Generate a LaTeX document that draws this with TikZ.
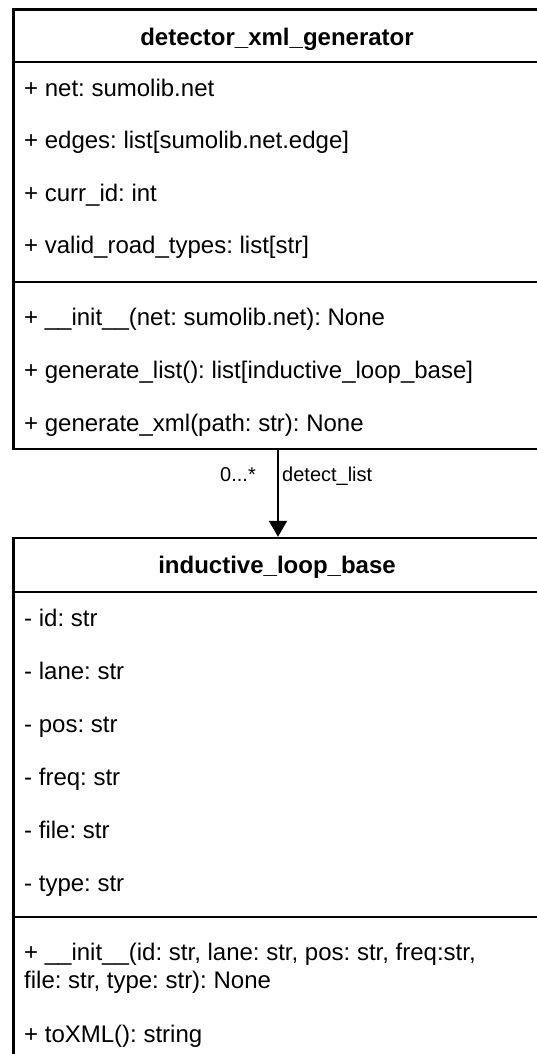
\documentclass[tikz,border=0pt]{standalone}
\usepackage{fontspec}
\setmainfont{Liberation Sans}
\usetikzlibrary{arrows.meta}
\frenchspacing
\begin{document}
\begin{tikzpicture}[x=1pt,y=-1pt,
  boxline/.style={line width=2.4pt, draw=black},
  umlbox/.style={boxline, fill=white, inner sep=0pt, minimum width=531.5pt},
  member/.style={anchor=base west, inner sep=0pt, font=\fontsize{24}{29}\selectfont\frenchspacing},
  titletext/.style={anchor=base, inner sep=0pt, font=\fontsize{24}{29}\selectfont\bfseries},
  edgelabel/.style={inner sep=0pt, font=\fontsize{20}{24}\selectfont},
  assoc/.style={line width=2pt, -{Triangle[length=16pt,width=18pt]}}]
\useasboundingbox (0,0) rectangle (537,1054);
\fill[white] (0,0) rectangle (537,1054);
\clip (0,0) rectangle (537,1054);

% ---- detector_xml_generator ----
\node[umlbox, minimum height=439.5pt] (gen) at (279.25,229.25) {};
\draw[boxline] (gen.west |- 0,62) coordinate (g1) -- (gen.east |- 0,62) coordinate (g2);
\draw[boxline] (gen.west |- 0,282) coordinate (g3) -- (gen.east |- 0,282) coordinate (g4);
\node[titletext] (gentitle) at (277,46) {detector\_xml\_generator};
\node[member] (ga1) at (24,97) {+ net: sumolib.net};
\node[member] (ga2) at (24,149) {+ edges: list[sumolib.net.edge]};
\node[member] (ga3) at (24,201) {+ curr\_id: int};
\node[member] (ga4) at (24,253) {+ valid\_road\_types: list[str]};
\node[member] (gm1) at (24,325) {+ \_\_init\_\_(net: sumolib.net): None};
\node[member] (gm2) at (24,378) {+ generate\_list(): list[inductive\_loop\_base]};
\node[member] (gm3) at (24,431) {+ generate\_xml(path: str): None};

% ---- inductive_loop_base ----
\node[umlbox, minimum height=560pt] (ind) at (279.25,818) {};
\draw[boxline] (ind.west |- 0,592) coordinate (i1) -- (ind.east |- 0,592) coordinate (i2);
\draw[boxline] (ind.west |- 0,917) coordinate (i3) -- (ind.east |- 0,917) coordinate (i4);
\node[titletext] (indtitle) at (277,573) {inductive\_loop\_base};
\node[member] (ia1) at (24,626) {- id: str};
\node[member] (ia2) at (24,679) {- lane: str};
\node[member] (ia3) at (24,732) {- pos: str};
\node[member] (ia4) at (24,785) {- freq: str};
\node[member] (ia5) at (24,838) {- file: str};
\node[member] (ia6) at (24,891) {- type: str};
\node[member] (im1a) at (24,960) {+ \_\_init\_\_(id: str, lane: str, pos: str, freq:str,};
\node[member] (im1b) at (24,988) {file: str, type: str): None};
\node[member] (im2) at (24,1042) {+ toXML(): string};

% ---- association ----
\coordinate (ax) at (278,0);
\draw[assoc] (gen.south -| ax) -- (ind.north -| ax);
\node[edgelabel, anchor=base east] (mult) at (256,481) {0...*};
\node[edgelabel, anchor=base west] (role) at (282,481) {detect\_list};
\end{tikzpicture}
\end{document}
